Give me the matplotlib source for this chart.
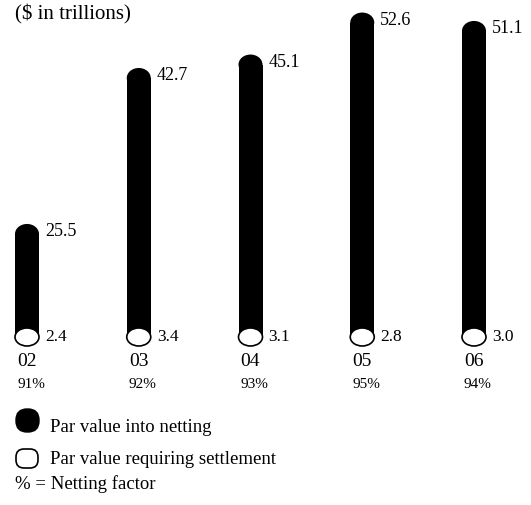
import matplotlib
matplotlib.use('Agg')
import numpy as np
import matplotlib.pyplot as plt
from matplotlib.patches import Rectangle, Ellipse, FancyBboxPatch

# data
years = ['02', '03', '04', '05', '06']
into_netting = [25.5, 42.7, 45.1, 52.6, 51.1]
settlement = [2.4, 3.4, 3.1, 2.8, 3.0]
netting_factor = ['91%', '92%', '93%', '95%', '94%']

plt.rcParams['font.family'] = ['Liberation Serif', 'DejaVu Serif']

W, H = 531, 505
fig = plt.figure(figsize=(W / 100, H / 100), dpi=100)
ax = fig.add_axes([0, 0, 1, 1])

# the original artwork is not drawn to one linear scale (the 02 column is
# shorter than its value implies), so use a piecewise-linear y scale (pixels)
scale_v = np.array([-100.0, 0.0, 30.0, 38.0, 100.0])
scale_h = np.array([-443.0, 0.0, 133.0, 242.7, 589.9])


def fwd(v):
    return np.interp(v, scale_v, scale_h)


def inv(h):
    return np.interp(h, scale_h, scale_v)


ax.set_yscale('function', functions=(fwd, inv))
px_x = 111.75     # pixels per category
x0, y0 = 27, 337  # pixel position of first column base
ax.set_xlim(-x0 / px_x, (W - x0) / px_x)
ax.set_ylim(inv(-(H - y0)), inv(y0))
ax.axis('off')

bw = 24 / px_x
cap_px = 20
ell_px = 18

for i, (v, s, yr, pct) in enumerate(zip(into_netting, settlement, years, netting_factor)):
    # black column with rounded top
    c = float(inv(fwd(v) - cap_px / 2))
    ax.add_patch(Rectangle((i - bw / 2, 0), bw, c, color='black', lw=0))
    ax.add_patch(Ellipse((i, c), bw, 2 * (v - c), color='black', lw=0))
    # white base
    eh = 2 * float(inv(ell_px / 2))
    ax.add_patch(Ellipse((i, 0), bw, eh, facecolor='white', edgecolor='black', lw=1.2))
    ax.annotate(f'{v:.1f}', (i + bw / 2, v), xytext=(6, -8), textcoords='offset pixels',
                ha='left', va='center', fontsize=13)
    ax.annotate(f'{s:.1f}', (i + bw / 2, 0), xytext=(6, 0), textcoords='offset pixels',
                ha='left', va='center', fontsize=12.5)
    ax.annotate(yr, (i - bw / 2, 0), xytext=(2, -25), textcoords='offset pixels',
                ha='left', va='center', fontsize=14)
    ax.annotate(pct, (i - bw / 2, 0), xytext=(2, -48), textcoords='offset pixels',
                ha='left', va='center', fontsize=11)

# unit note and legend (pixel coords)
lg = fig.add_axes([0, 0, 1, 1])
lg.set_xlim(0, W)
lg.set_ylim(H, 0)
lg.axis('off')
lg.text(15, 14, '($ in trillions)', ha='left', va='center', fontsize=15)
lg.add_patch(FancyBboxPatch((16, 409), 23, 23, boxstyle='round,pad=0,rounding_size=11',
                            facecolor='black', edgecolor='black', lw=1))
lg.text(50, 427, 'Par value into netting', ha='left', va='center', fontsize=13.5)
lg.add_patch(FancyBboxPatch((16, 449), 22, 19, boxstyle='round,pad=0,rounding_size=8',
                            facecolor='white', edgecolor='black', lw=1.2))
lg.text(50, 459, 'Par value requiring settlement', ha='left', va='center', fontsize=13.5)
lg.text(15, 484, '% = Netting factor', ha='left', va='center', fontsize=13.5)

fig.savefig('out.png', dpi=100)
